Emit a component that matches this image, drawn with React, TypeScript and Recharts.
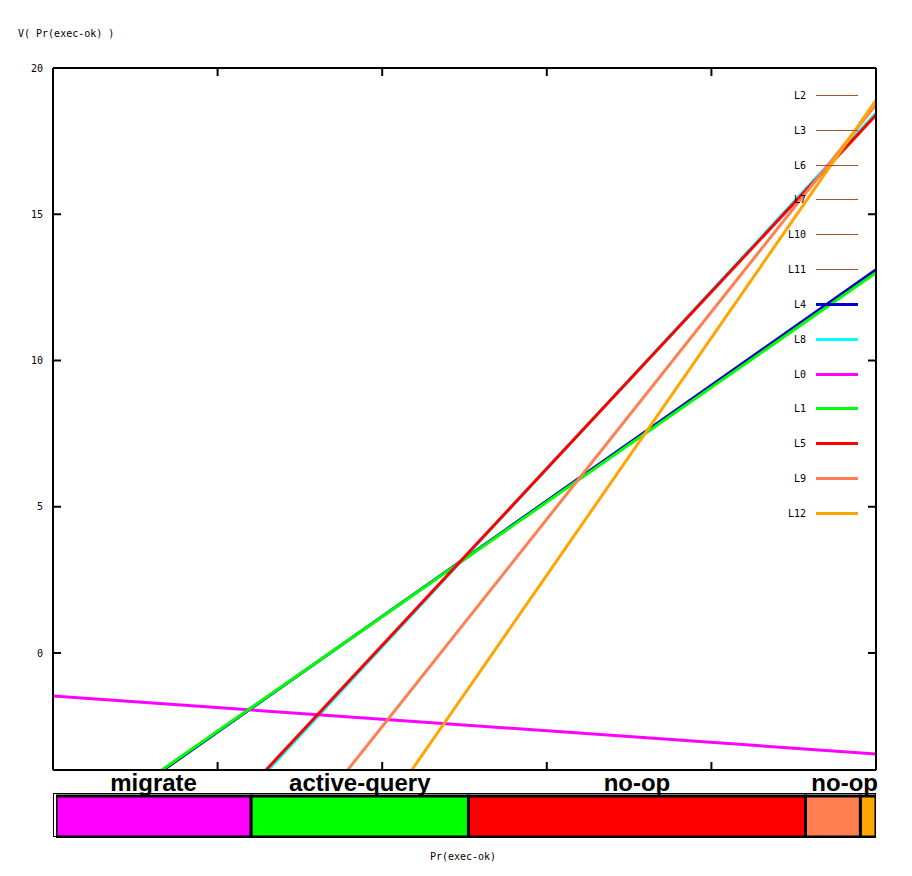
import React from "react";
import {
  LineChart,
  Line,
  XAxis,
  YAxis,
  Legend,
  BarChart,
  Bar,
  LabelList,
} from "recharts";

// x positions (Pr(exec-ok)) and the value of each series at them
const pr = [0, 1];
const L0 = [-1.47, -3.45];
const L1 = [-6.59, 13.0];
const L4 = [-6.65, 13.1];
const L5 = [-11.82, 18.39];
const L8 = [-11.95, 18.46];
const L9 = [-16.69, 18.75];
const L12 = [-21.7, 18.9];

const seriesNames = ["L4", "L8", "L0", "L1", "L5", "L9", "L12"];
const seriesValues = [L4, L8, L0, L1, L5, L9, L12];
const seriesColors = ["#0000cd", "#00ffff", "#ff00ff", "#00ff00", "#ff0000", "#ff7f50", "#ffa500"];

// legend only entries (lines are off-chart)
const hiddenNames = ["L2", "L3", "L6", "L7", "L10", "L11"];
const hiddenColor = "#a0522d";

const yTicks = [0, 5, 10, 15, 20];
const xTicks = [0.2, 0.4, 0.6, 0.8];

// best-action strip under the plot
const regionNames = ["migrate", "active-query", "no-op", "", "no-op"];
const regionEnds = [0.238, 0.503, 0.914, 0.981, 1];
const regionColors = ["#ff00ff", "#00ff00", "#ff0000", "#ff7f50", "#ffa500"];

const lineData = pr.map((p, i) => {
  const row: Record<string, number> = { p };
  seriesNames.forEach((n, k) => {
    row[n] = seriesValues[k][i];
  });
  return row;
});

const stripRow: Record<string, number | string> = { name: "strip" };
regionEnds.forEach((e, i) => {
  stripRow["r" + i] = e - (i > 0 ? regionEnds[i - 1] : 0);
});

const mono = "'DejaVu Sans Mono', monospace";
const frame = { stroke: "#000", strokeWidth: 2 };
const TICK = 8;

// inward tick marks (gnuplot style)
const LeftTick = (props: any) => {
  const { x, y, payload } = props;
  return (
    <g>
      <line x1={x + 10} x2={x + 10 + TICK} y1={y} y2={y} stroke="#000" strokeWidth={2} />
      <text x={x} y={y} dy="0.355em" textAnchor="end" fontFamily={mono} fontSize={10} fill="#000">
        {payload.value}
      </text>
    </g>
  );
};
const RightTick = (props: any) => (
  <line x1={props.x - TICK} x2={props.x} y1={props.y} y2={props.y} stroke="#000" strokeWidth={2} />
);
const BottomTick = (props: any) => (
  <line x1={props.x} x2={props.x} y1={props.y - TICK} y2={props.y} stroke="#000" strokeWidth={2} />
);
const TopTick = (props: any) => (
  <line x1={props.x} x2={props.x} y1={props.y} y2={props.y + TICK} stroke="#000" strokeWidth={2} />
);

const LegendBox = () => {
  const items = [
    ...hiddenNames.map((n) => ({ name: n, color: hiddenColor, w: 1 })),
    ...seriesNames.map((n, i) => ({ name: n, color: seriesColors[i], w: 3 })),
  ];
  return (
    <div>
      {items.map((it) => (
        <div
          key={it.name}
          style={{ display: "flex", alignItems: "center", height: 34.83 }}
        >
          <span
            style={{
              width: 36,
              textAlign: "right",
              fontFamily: mono,
              fontSize: 10,
              color: "#000",
            }}
          >
            {it.name}
          </span>
          <span
            style={{
              marginLeft: 10,
              width: 42,
              height: it.w,
              background: it.color,
            }}
          />
        </div>
      ))}
    </div>
  );
};

const stripLabel = (i: number) => (props: any) => {
  const text = regionNames[i];
  if (!text) return null;
  const vb = props.viewBox || props;
  const x = props.x ?? vb.x;
  const y = props.y ?? vb.y;
  const width = props.width ?? vb.width;
  const last = i === regionNames.length - 1;
  return (
    <text
      x={last ? x + width + 2 : x + width / 2}
      y={y - 5}
      textAnchor={last ? "end" : "middle"}
      fontFamily="'Liberation Sans', Arial, sans-serif"
      fontWeight="bold"
      fontSize={24}
      fill="#000"
    >
      {text}
    </text>
  );
};

const App: React.FC = () => {
  return (
    <div
      style={{
        position: "absolute",
        left: 0,
        top: 0,
        width: 912,
        height: 876,
        background: "#fff",
      }}
    >
      {/* y label */}
      <div
        style={{
          position: "absolute",
          left: 18,
          top: 27,
          fontFamily: mono,
          fontSize: 10,
          lineHeight: "14px",
          whiteSpace: "pre",
        }}
      >
        V( Pr(exec-ok) )
      </div>

      {/* Main chart */}
      <div style={{ position: "absolute", left: 0, top: 0 }}>
        <LineChart
          width={912}
          height={876}
          data={lineData}
          margin={{ top: 67, left: 52, right: 35, bottom: 105 }}
        >
          <XAxis
            xAxisId="p"
            dataKey="p"
            type="number"
            domain={[0, 1]}
            ticks={xTicks}
            allowDataOverflow
            orientation="bottom"
            height={1}
            tick={<BottomTick />}
            tickSize={0}
            tickMargin={0}
            tickLine={false}
            axisLine={frame}
          />
          <XAxis
            xAxisId="pt"
            dataKey="p"
            type="number"
            domain={[0, 1]}
            ticks={xTicks}
            allowDataOverflow
            orientation="top"
            height={1}
            tick={<TopTick />}
            tickSize={0}
            tickMargin={0}
            tickLine={false}
            axisLine={frame}
          />
          <YAxis
            yAxisId="v"
            type="number"
            domain={[-4, 20]}
            ticks={yTicks}
            allowDataOverflow
            width={1}
            tickSize={0}
            tickMargin={10}
            tickLine={false}
            tick={<LeftTick />}
            axisLine={frame}
          />
          <YAxis
            yAxisId="vr"
            orientation="right"
            type="number"
            domain={[-4, 20]}
            ticks={yTicks}
            allowDataOverflow
            width={1}
            tick={<RightTick />}
            tickSize={0}
            tickMargin={0}
            tickLine={false}
            axisLine={frame}
          />
          <Legend
            layout="vertical"
            align="center"
            verticalAlign="middle"
            content={() => <LegendBox />}
            wrapperStyle={{ left: 770, top: 78, width: 100, height: 460 }}
          />
          {seriesNames.map((n, i) => (
            <Line
              key={n}
              xAxisId="p"
              yAxisId="v"
              dataKey={n}
              stroke={seriesColors[i]}
              strokeWidth={3}
              dot={false}
              activeDot={false}
              isAnimationActive={false}
            />
          ))}
        </LineChart>
      </div>

      {/* Strip */}
      <div
        style={{
          position: "absolute",
          left: 53,
          top: 793,
          width: 823,
          height: 44,
          border: "1px solid #000",
          boxSizing: "border-box",
        }}
      />
      <div style={{ position: "absolute", left: 53, top: 763 }}>
        <BarChart
          width={825}
          height={75}
          layout="vertical"
          data={[stripRow]}
          barCategoryGap={0}
          margin={{ top: 33, left: 3, right: 2, bottom: 1 }}
        >
          <XAxis type="number" domain={[0, 1]} allowDataOverflow hide />
          <YAxis type="category" dataKey="name" hide />
          {regionEnds.map((_, i) => (
            <Bar
              key={i}
              dataKey={"r" + i}
              stackId="s"
              fill={regionColors[i]}
              stroke="#000"
              strokeWidth={3}
              isAnimationActive={false}
            >
              <LabelList dataKey={"r" + i} content={stripLabel(i)} />
            </Bar>
          ))}
        </BarChart>
      </div>

      {/* x label */}
      <div
        style={{
          position: "absolute",
          left: 0,
          width: 926,
          top: 850,
          textAlign: "center",
          fontFamily: mono,
          fontSize: 10,
          lineHeight: "14px",
        }}
      >
        Pr(exec-ok)
      </div>
    </div>
  );
};

export default App;
